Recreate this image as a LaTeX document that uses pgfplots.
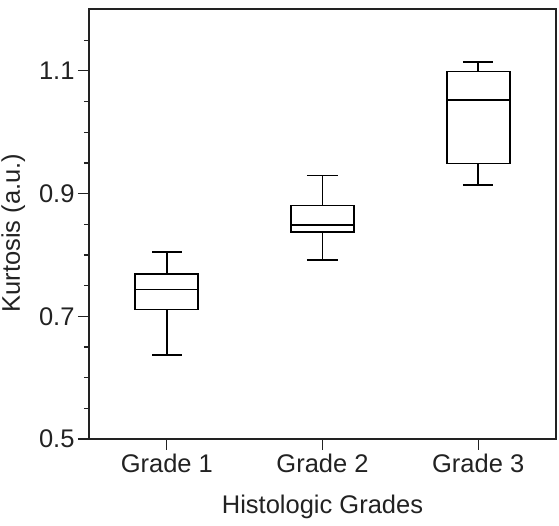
\documentclass[border=0pt]{standalone}
\usepackage{fontspec}
\setmainfont{Liberation Sans}
\usepackage{pgfplots}
\pgfplotsset{compat=1.18}
\usepgfplotslibrary{statistics}
\definecolor{txt}{HTML}{222222}
\begin{document}
\begin{tikzpicture}
\begin{axis}[
  scale only axis, width=467pt, height=429.5pt,
  xmin=0.5, xmax=3.5, ymin=0.5, ymax=1.2,
  xtick={1,2,3}, xticklabels={Grade 1,Grade 2,Grade 3},
  ytick={0.5,0.7,0.9,1.1},
  minor ytick={0.55,0.6,0.65,0.75,0.8,0.85,0.95,1.0,1.05,1.15},
  /pgf/number format/assume math mode=true,
  yticklabel style={/pgf/number format/fixed, /pgf/number format/precision=1, /pgf/number format/fixed zerofill},
  tick align=outside, tick pos=left,
  major tick length=11pt, minor tick length=5pt,
  axis line style={line width=2pt, txt},
  every tick/.style={line width=1.3pt, txt},
  font=\fontsize{25.5}{30}\selectfont,
  ticklabel style={text=txt},
  xlabel={Histologic Grades}, ylabel={Kurtosis (a.u.)},
  xlabel style={at={(axis description cs:0.5,0)}, anchor=base, yshift=-75pt, text=txt},
  ylabel style={at={([xshift=-69pt]axis description cs:0,0.479)}, anchor=base, text=txt},
  boxplot/draw direction=y,
  boxplot/every box/.style={draw=black, line width=1.8pt},
  boxplot/every median/.style={draw=black, line width=1.8pt},
  boxplot/every whisker/.style={draw=black, line width=1.8pt},
]
\addplot[black, line width=1.8pt, solid, mark=none, boxplot prepared={draw position=1, lower whisker=0.6375, lower quartile=0.711, median=0.7436, upper quartile=0.769, upper whisker=0.805, box extend=0.405, whisker extend=0.19}] coordinates {};
\addplot[black, line width=1.8pt, solid, mark=none, boxplot prepared={draw position=2, lower whisker=0.7914, lower quartile=0.838, median=0.8484, upper quartile=0.8804, upper whisker=0.9294, box extend=0.4, whisker extend=0.2}] coordinates {};
\addplot[black, line width=1.8pt, solid, mark=none, boxplot prepared={draw position=3, lower whisker=0.9137, lower quartile=0.949, median=1.0527, upper quartile=1.099, upper whisker=1.114, box extend=0.404, whisker extend=0.195}] coordinates {};
\end{axis}
\pgfresetboundingbox
\useasboundingbox ([shift={(-89pt,-87pt)}]current axis.south west) rectangle ([shift={(3pt,9.5pt)}]current axis.north east);
\end{tikzpicture}
\end{document}
